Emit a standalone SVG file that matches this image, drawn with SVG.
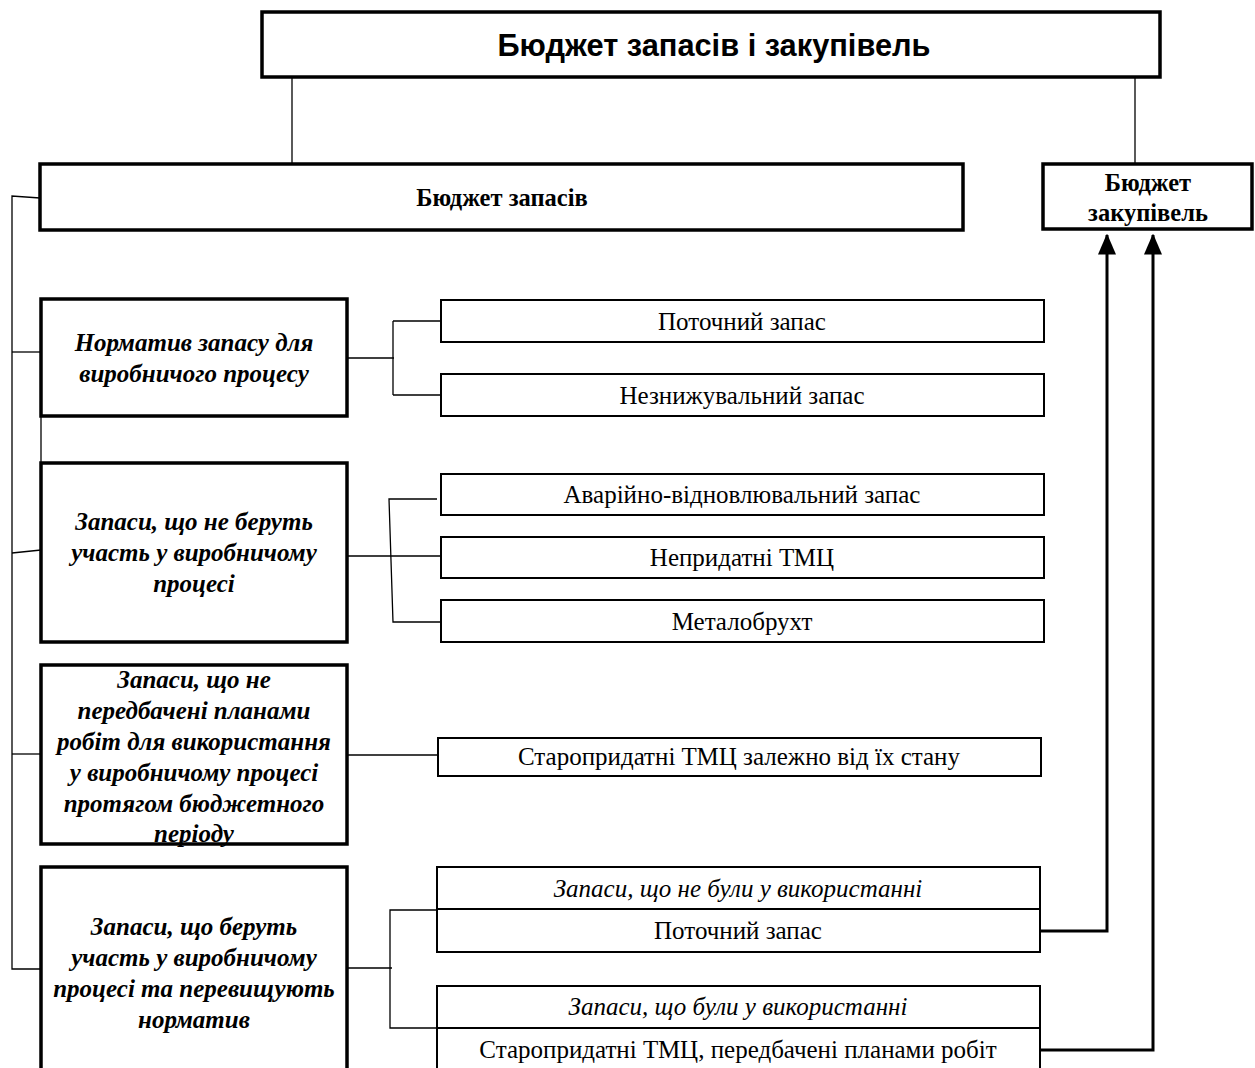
<svg xmlns="http://www.w3.org/2000/svg" width="1255" height="1068" viewBox="0 0 1255 1068">
<style>
.main{fill:#fff;stroke:#000;stroke-width:3.5}
.sub{fill:#fff;stroke:#000;stroke-width:2}
.ln{fill:none;stroke:#000;stroke-width:1.3}
.arr{fill:none;stroke:#000;stroke-width:3}
.t{font-family:"Liberation Serif","Times New Roman",serif;fill:#000;text-anchor:middle}
.bi{font-weight:bold;font-style:italic;font-size:25px}
.r{font-size:25px}
.i{font-size:25px;font-style:italic}
.b{font-weight:bold;font-size:24.5px}
</style>
<defs>
<marker id="ah" markerWidth="7" markerHeight="6" refX="6.5" refY="3" orient="auto" markerUnits="strokeWidth">
<path d="M0,0 L7,3 L0,6 Z" fill="#000"/>
</marker>
</defs>
<rect width="1255" height="1068" fill="#fff"/>
<g id="connectors">
<path class="ln" d="M292,77 V164"/>
<path class="ln" d="M1135,77 V164"/>
<path class="ln" d="M40,198 L12,196 V969 L41,969"/>
<path class="ln" d="M12,352 H41"/>
<path class="ln" d="M41,416 V463"/>
<path class="ln" d="M12,553 L41,550"/>
<path class="ln" d="M12,754 H41"/>
<path class="ln" d="M347,358 H394 M393,321 V395 M393,321 H441 M393,395 H441"/>
<path class="ln" d="M345,556 H440 M437,499 H389 L393,622 H441"/>
<path class="ln" d="M347,755 H438"/>
<path class="ln" d="M347,968 H392 M437,910 H390 V1028 H437"/>
<path class="arr" marker-end="url(#ah)" d="M1040,931 H1107 V235"/>
<path class="arr" marker-end="url(#ah)" d="M1040,1050 H1153 V235"/>
</g>
<g id="top">
<rect class="main" x="262" y="12" width="898" height="65"/>
<text x="714" y="56" font-family="Liberation Sans, Arial, sans-serif" font-weight="bold" font-size="32" text-anchor="middle" textLength="433" lengthAdjust="spacingAndGlyphs">Бюджет запасів і закупівель</text>
</g>
<g id="budget-stock">
<rect class="main" x="40" y="164" width="923" height="66"/>
<text class="t b" x="502" y="206">Бюджет запасів</text>
</g>
<g id="budget-purchase">
<rect class="main" x="1043" y="164" width="209" height="65"/>
<text class="t b" x="1148" y="191">Бюджет</text>
<text class="t b" x="1148" y="221">закупівель</text>
</g>
<g id="norm">
<rect class="main" x="41" y="299" width="306" height="117"/>
<text class="t bi" x="194" y="351">Норматив запасу для</text>
<text class="t bi" x="194" y="382">виробничого процесу</text>
</g>
<g id="not-used">
<rect class="main" x="41" y="463" width="306" height="179"/>
<text class="t bi" x="194" y="530">Запаси, що не беруть</text>
<text class="t bi" x="194" y="561">участь у виробничому</text>
<text class="t bi" x="194" y="592">процесі</text>
</g>
<g id="not-planned">
<rect class="main" x="41" y="665" width="306" height="179"/>
<text class="t bi" x="194" y="688">Запаси, що не</text>
<text class="t bi" x="194" y="719">передбачені планами</text>
<text class="t bi" x="194" y="750">робіт для використання</text>
<text class="t bi" x="194" y="781">у виробничому процесі</text>
<text class="t bi" x="194" y="812">протягом бюджетного</text>
<text class="t bi" x="194" y="842">періоду</text>
</g>
<g id="exceed">
<rect class="main" x="41" y="867" width="306" height="210"/>
<text class="t bi" x="194" y="935">Запаси, що беруть</text>
<text class="t bi" x="194" y="966">участь у виробничому</text>
<text class="t bi" x="194" y="997">процесі та перевищують</text>
<text class="t bi" x="194" y="1028">норматив</text>
</g>
<g id="current">
<rect class="sub" x="441" y="300" width="603" height="42"/>
<text class="t r" x="742" y="330">Поточний запас</text>
</g>
<g id="irreducible">
<rect class="sub" x="441" y="374" width="603" height="42"/>
<text class="t r" x="742" y="404">Незнижувальний запас</text>
</g>
<g id="emergency">
<rect class="sub" x="441" y="474" width="603" height="41"/>
<text class="t r" x="742" y="503">Аварійно-відновлювальний запас</text>
</g>
<g id="unfit">
<rect class="sub" x="441" y="537" width="603" height="41"/>
<text class="t r" x="742" y="566">Непридатні ТМЦ</text>
</g>
<g id="scrap">
<rect class="sub" x="441" y="600" width="603" height="42"/>
<text class="t r" x="742" y="630">Металобрухт</text>
</g>
<g id="old-state">
<rect class="sub" x="438" y="738" width="603" height="38"/>
<text class="t r" x="739" y="765">Старопридатні ТМЦ залежно від їх стану</text>
</g>
<g id="unused-current">
<rect class="sub" x="437" y="867" width="603" height="85"/>
<line class="sub" x1="437" y1="909" x2="1040" y2="909"/>
<text class="t i" x="738" y="897">Запаси, що не були у використанні</text>
<text class="t r" x="738" y="939">Поточний запас</text>
</g>
<g id="used-old">
<rect class="sub" x="437" y="986" width="603" height="95"/>
<line class="sub" x1="437" y1="1028" x2="1040" y2="1028"/>
<text class="t i" x="738" y="1015">Запаси, що були у використанні</text>
<text class="t r" x="738" y="1058">Старопридатні ТМЦ, передбачені планами робіт</text>
</g>
</svg>
